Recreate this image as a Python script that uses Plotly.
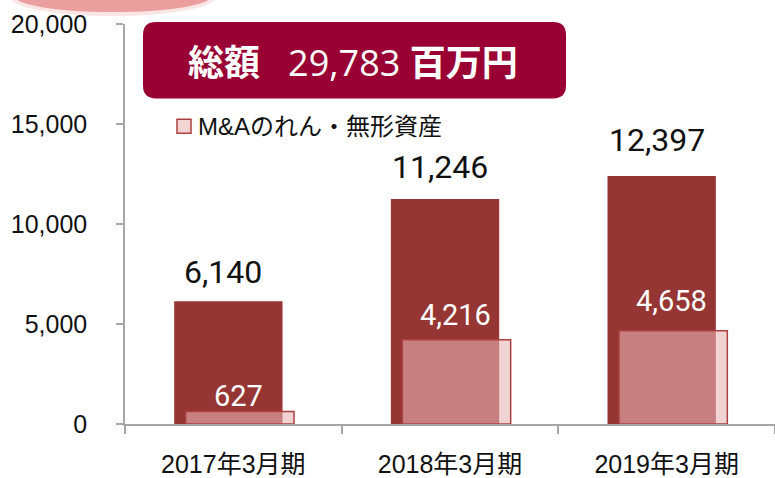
import plotly.graph_objects as go

# ---- data ----
categories = ["2017年3月期", "2018年3月期", "2019年3月期"]
total_values = [6140, 11246, 12397]
mna_values = [627, 4216, 4658]
legend_label = "M&Aのれん・無形資産"
y_tick_values = [0, 5000, 10000, 15000, 20000]
banner_word = "総額"
banner_unit = "百万円"

# ---- style ----
DARK = "#963634"
PINK = "rgba(233,180,180,0.59)"
PINK_EDGE = "#AC4040"
BANNER = "#990033"
AXIS = "#A6A6A6"
NUM_FONT = "Roboto, Open Sans, sans-serif"
TICK_FONT = "Liberation Sans, Arial, Noto Sans CJK JP"
CJK_FONT = "Liberation Sans, Noto Sans CJK JP"

dark_nudge = [8, 11, 15]      # label offsets in px
pink_nudge = [-4, 6, 11]

W, H = 775, 478
ML, MR, MT, MB = 125, 0, 24, 51
PW, PH = W - ML - MR, H - MT - MB


def px(x):
    return (x - ML) / PW


def py(y):
    return (H - MB - y) / PH


fig = go.Figure()
fig.add_bar(x=categories, y=total_values, width=0.5, offset=-0.273,
            marker=dict(color=DARK, line=dict(width=0)),
            showlegend=False, hoverinfo="skip")
fig.add_bar(x=categories, y=mna_values, width=0.5, offset=-0.22,
            marker=dict(color=PINK, line=dict(color=PINK_EDGE, width=1.5)),
            name=legend_label, showlegend=False, hoverinfo="skip")

annotations = []
for c, v, s in zip(categories, total_values, dark_nudge):
    annotations.append(dict(x=c, y=v, xref="x", yref="y", text=f"{v:,}",
                            showarrow=False, yanchor="bottom", xshift=-10, yshift=s,
                            font=dict(family=NUM_FONT, size=32, color="#111111")))
for c, v, s in zip(categories, mna_values, pink_nudge):
    annotations.append(dict(x=c, y=v, xref="x", yref="y", text=f"{v:,}",
                            showarrow=False, yanchor="bottom", xshift=5, yshift=s,
                            font=dict(family=NUM_FONT, size=29, color="white")))

# banner text
total_sum = sum(total_values)
annotations.append(dict(
    x=px(353), y=py(63), xref="paper", yref="paper", showarrow=False,
    xanchor="center", yanchor="middle",
    text=f"<b>{banner_word}</b>\u00a0\u00a0\u00a0{total_sum:,}\u00a0<b>{banner_unit}</b>",
    font=dict(family="Open Sans, Noto Sans CJK JP", size=36, color="white")))

# legend text
annotations.append(dict(
    x=px(196), y=py(127), xref="paper", yref="paper", showarrow=False,
    xanchor="left", yanchor="middle", text=legend_label,
    font=dict(family=CJK_FONT, size=24, color="#111111")))

# banner rounded rectangle path (paper coords)
bx0, bx1, by0, by1, r = 143, 566, 22, 99, 13


def P(x, y):
    return f"{px(x):.5f},{py(y):.5f}"


banner_path = (
    f"M {P(bx0 + r, by0)} L {P(bx1 - r, by0)} Q {P(bx1, by0)} {P(bx1, by0 + r)} "
    f"L {P(bx1, by1 - r)} Q {P(bx1, by1)} {P(bx1 - r, by1)} "
    f"L {P(bx0 + r, by1)} Q {P(bx0, by1)} {P(bx0, by1 - r)} "
    f"L {P(bx0, by0 + r)} Q {P(bx0, by0)} {P(bx0 + r, by0)} Z"
)

shapes = [
    # pink tab at top-left (soft glow + core)
    dict(type="circle", xref="paper", yref="paper",
         x0=px(9), x1=px(217), y0=py(16), y1=py(-24),
         fillcolor="rgba(240,180,180,0.35)", line=dict(width=0), layer="above"),
    dict(type="circle", xref="paper", yref="paper",
         x0=px(15), x1=px(211), y0=py(12), y1=py(-20),
         fillcolor="rgba(230,140,140,0.8)", line=dict(width=0), layer="above"),
    # banner
    dict(type="path", xref="paper", yref="paper", path=banner_path,
         fillcolor=BANNER, line=dict(width=0), layer="above"),
    # legend swatch
    dict(type="rect", xref="paper", yref="paper",
         x0=px(177), x1=px(191), y0=py(134), y1=py(120),
         fillcolor="#F2D4D4", line=dict(color=PINK_EDGE, width=1.5), layer="above"),
]

fig.update_layout(
    width=W, height=H,
    margin=dict(l=ML, r=MR, t=MT, b=MB, pad=0),
    paper_bgcolor="white", plot_bgcolor="white",
    barmode="overlay",
    annotations=annotations,
    shapes=shapes,
    showlegend=False,
    xaxis=dict(
        type="category", range=[-0.5, 2.5], showgrid=False, zeroline=False,
        showline=True, linecolor=AXIS, linewidth=1.5,
        ticks="outside", tickson="boundaries", ticklen=8, tickcolor=AXIS, tickwidth=1.5,
        tickfont=dict(family=CJK_FONT, size=25, color="#111111"),
        ticklabelstandoff=17,
    ),
    yaxis=dict(
        range=[0, 20000], tickvals=y_tick_values, tickformat=",",
        showgrid=False, zeroline=False,
        showline=True, linecolor=AXIS, linewidth=1.5,
        ticks="outside", ticklen=7, tickcolor=AXIS, tickwidth=1.5,
        tickfont=dict(family=TICK_FONT, size=25, color="#111111"),
        ticklabelstandoff=24,
    ),
)

fig.write_html(
    "out.html",
    config={"displayModeBar": False},
    post_script="document.body.style.margin='0';document.body.style.padding='0';",
)
